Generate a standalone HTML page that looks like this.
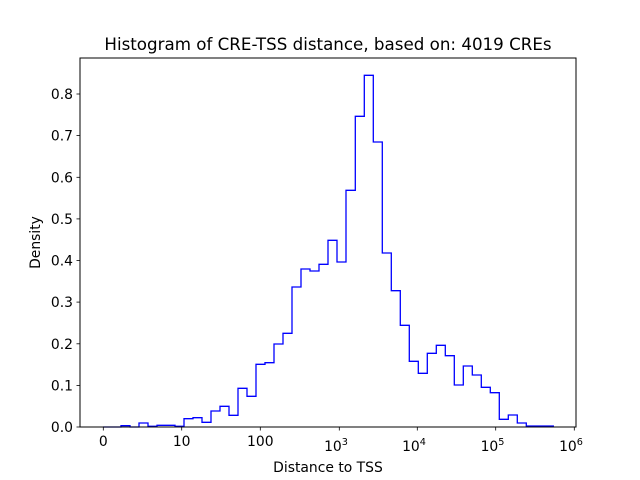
<!DOCTYPE html>
<html><head><meta charset="utf-8"><style>
html,body{margin:0;padding:0;background:#fff;width:640px;height:480px;overflow:hidden}
text{font-family:"DejaVu Sans","Liberation Sans",sans-serif;fill:#000}
</style></head><body>
<svg width="640" height="480" viewBox="0 0 640 480" xmlns="http://www.w3.org/2000/svg">
<rect width="640" height="480" fill="#fff"/>
<path fill="none" stroke="#0000ff" stroke-width="1.3" stroke-linejoin="miter" d="
M103,427 L121,427 L121,425.7 L130,425.7 L130,427 L139,427 L139,423 L148,423 L148,426.3 L157,426.3 L157,425.3 L175,425.3 L175,426.3 L184,426.3
L184,418.7 L193,418.7 L193,417.7 L202,417.7 L202,422.3 L211,422.3 L211,411 L220,411 L220,406.3 L229,406.3 L229,415.3 L238,415.3 L238,388.3 L247,388.3 L247,396.3 L256,396.3 L256,364.3 L265,364.3 L265,362.7 L274,362.7 L274,344 L283,344 L283,333.3 L292,333.3
L292,287 L301,287 L301,269 L310,269 L310,271 L319,271 L319,264.3 L328,264.3 L328,240.3 L337,240.3 L337,262 L346,262 L346,190.3 L355.3,190.3 L355.3,116.3 L364.3,116.3 L364.3,75.3 L373.3,75.3 L373.3,142 L382.3,142 L382.3,253 L391.3,253 L391.3,290.7 L400.3,290.7 L400.3,325.3 L409.3,325.3 L409.3,361.3 L418.3,361.3 L418.3,373.3 L427.3,373.3 L427.3,353.3 L436.3,353.3 L436.3,345.3 L445.3,345.3 L445.3,355.7 L454.3,355.7 L454.3,385 L463.3,385 L463.3,366 L472.3,366 L472.3,375 L481.3,375 L481.3,387.3 L490.3,387.3 L490.3,392.7 L499.3,392.7 L499.3,419.3 L508.3,419.3 L508.3,415 L517.3,415 L517.3,423 L526.3,423 L526.3,426 L553.3,426 L553.3,427"/>
<rect x="80" y="58" width="496" height="369" fill="none" stroke="#000" stroke-width="1"/>
<g stroke="#000" stroke-width="0.8">
<line x1="103.3" y1="427" x2="103.3" y2="430.5"/><line x1="181.7" y1="427" x2="181.7" y2="430.5"/><line x1="260.3" y1="427" x2="260.3" y2="430.5"/><line x1="339.3" y1="427" x2="339.3" y2="430.5"/><line x1="417.3" y1="427" x2="417.3" y2="430.5"/><line x1="495.7" y1="427" x2="495.7" y2="430.5"/><line x1="574.3" y1="427" x2="574.3" y2="430.5"/>
<line x1="76.5" y1="427" x2="80" y2="427"/><line x1="76.5" y1="385.4" x2="80" y2="385.4"/><line x1="76.5" y1="343.8" x2="80" y2="343.8"/><line x1="76.5" y1="302.1" x2="80" y2="302.1"/><line x1="76.5" y1="260.5" x2="80" y2="260.5"/><line x1="76.5" y1="218.9" x2="80" y2="218.9"/><line x1="76.5" y1="177.3" x2="80" y2="177.3"/><line x1="76.5" y1="135.6" x2="80" y2="135.6"/><line x1="76.5" y1="94" x2="80" y2="94"/>
</g>
<g font-size="13.9" text-anchor="middle">
<text x="103.3" y="446">0</text><text x="181.7" y="446">10</text><text x="260.3" y="446">100</text>
<text x="336" y="451">10<tspan font-size="9.7" dy="-6">3</tspan></text>
<text x="414" y="451">10<tspan font-size="9.7" dy="-6">4</tspan></text>
<text x="492.5" y="451">10<tspan font-size="9.7" dy="-6">5</tspan></text>
<text x="571" y="451">10<tspan font-size="9.7" dy="-6">6</tspan></text>
</g>
<g font-size="13.9" text-anchor="end">
<text x="73" y="432">0.0</text><text x="73" y="390.4">0.1</text><text x="73" y="348.8">0.2</text><text x="73" y="307.1">0.3</text><text x="73" y="265.5">0.4</text><text x="73" y="223.9">0.5</text><text x="73" y="182.3">0.6</text><text x="73" y="140.6">0.7</text><text x="73" y="99">0.8</text>
</g>
<text x="328" y="472" font-size="13.9" text-anchor="middle">Distance to TSS</text>
<text x="40" y="242.5" font-size="13.9" text-anchor="middle" transform="rotate(-90 40 242.5)">Density</text>
<text x="328" y="50" font-size="16.7" text-anchor="middle">Histogram of CRE-TSS distance, based on: 4019 CREs</text>
</svg>
</body></html>
